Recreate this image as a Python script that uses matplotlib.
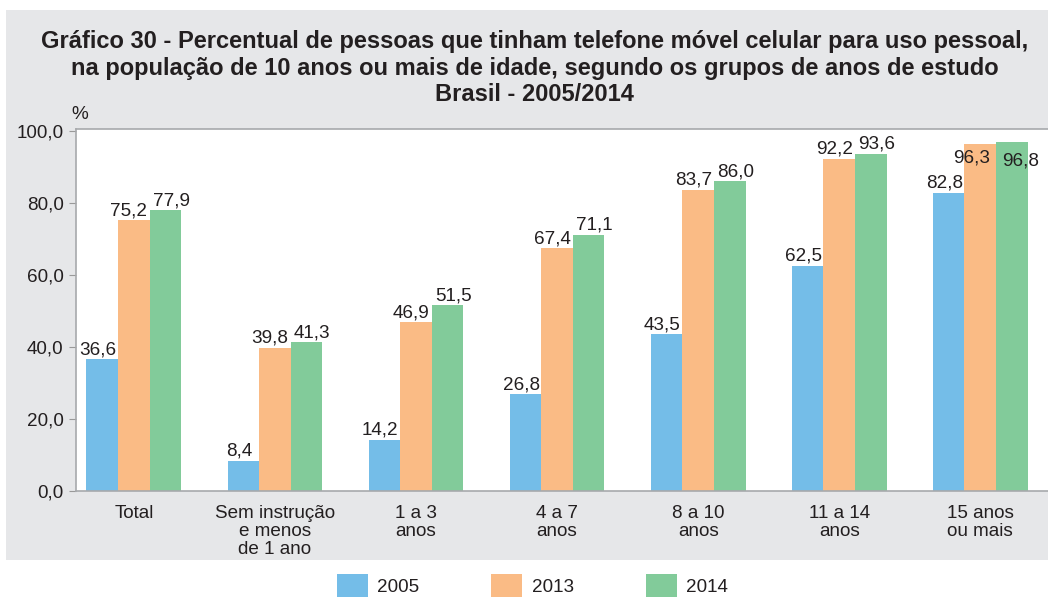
import numpy as np
import matplotlib.pyplot as plt
from matplotlib.patches import Rectangle, Patch

# dados do gráfico
categorias = ['Total', 'Sem instrução\ne menos\nde 1 ano', '1 a 3\nanos', '4 a 7\nanos',
              '8 a 10\nanos', '11 a 14\nanos', '15 anos\nou mais']
anos = ['2005', '2013', '2014']
v2005 = [36.6, 8.4, 14.2, 26.8, 43.5, 62.5, 82.8]
v2013 = [75.2, 39.8, 46.9, 67.4, 83.7, 92.2, 96.3]
v2014 = [77.9, 41.3, 51.5, 71.1, 86.0, 93.6, 96.8]

cores = ['#74BDE8', '#FABB85', '#82CB9A']
cinza_fundo = '#E6E7E9'
cor_texto = '#231F20'
fs = 13.6

plt.rcParams['font.family'] = ['Liberation Sans', 'DejaVu Sans']

fig = plt.figure(figsize=(10.48, 5.99), dpi=100)
fig.patch.set_facecolor('white')
# fundo cinza
fig.patches.append(Rectangle((6 / 1048, 39 / 599), 1 - 6 / 1048, 550 / 599,
                             transform=fig.transFigure, facecolor=cinza_fundo,
                             edgecolor='none', zorder=-5))

ax = fig.add_axes([76 / 1048, 108 / 599, 972 / 1048, 362 / 599])
ax.set_zorder(2)
ax.set_facecolor('white')

x = np.arange(len(categorias))
w = 0.224
series = [v2005, v2013, v2014]
# deslocamento horizontal dos rótulos (afastados entre si)
desl = [-0.03, -0.035, 0.04]
for i, (vals, cor) in enumerate(zip(series, cores)):
    pos = x + (i - 1) * w
    ax.bar(pos, vals, width=w, color=cor, edgecolor='none', zorder=2)
    for xp, v in zip(pos, vals):
        rot = f'{v:.1f}'.replace('.', ',')
        if v > 95:
            # rótulos perto do topo ficam dentro da barra
            dx = -0.06 if i == 1 else 0.065
            dy = -5.2 if i == 1 else -6.5
            ax.text(xp + dx, v + dy, rot, ha='center', va='baseline',
                    fontsize=fs, color=cor_texto, zorder=3)
        else:
            ax.text(xp + desl[i], v + 1.4, rot, ha='center', va='baseline',
                    fontsize=fs, color=cor_texto, zorder=3)

ax.set_xlim(-0.41, 6.48)
ax.set_ylim(0, 100.5)
ax.set_yticks(np.arange(0, 101, 20))
ax.set_yticklabels([f'{t:.1f}'.replace('.', ',') for t in np.arange(0, 101, 20)],
                   fontsize=fs, color=cor_texto)
ax.set_xticks(x)
ax.set_xticklabels(categorias, fontsize=fs, color=cor_texto, linespacing=1.1)
ax.tick_params(axis='x', length=0, pad=10)
ax.tick_params(axis='y', length=5, color='#999999', pad=4)
for s in ['left', 'bottom', 'top']:
    ax.spines[s].set_color('#A7A9AC')
    ax.spines[s].set_linewidth(1.2)
ax.spines['right'].set_visible(False)

ax.text(-0.005, 1.04, '%', transform=ax.transAxes, fontsize=fs,
        color=cor_texto, ha='left', va='center')

fig.text(0.51, 0.886,
         'Gráfico 30 - Percentual de pessoas que tinham telefone móvel celular para uso pessoal,\n'
         'na população de 10 anos ou mais de idade, segundo os grupos de anos de estudo\n'
         'Brasil - 2005/2014',
         ha='center', va='center', fontsize=17, fontweight='bold',
         color=cor_texto, linespacing=1.2)

handles = [Patch(facecolor=c, edgecolor='none') for c in cores]
fig.legend(handles, anos, loc='center', bbox_to_anchor=(0.508, 0.022), ncol=3,
           frameon=False, fontsize=fs, handlelength=1.65, handleheight=1.5,
           columnspacing=3.8, handletextpad=0.5, labelcolor=cor_texto)

fig.savefig('out.png', dpi=100, facecolor='white')
